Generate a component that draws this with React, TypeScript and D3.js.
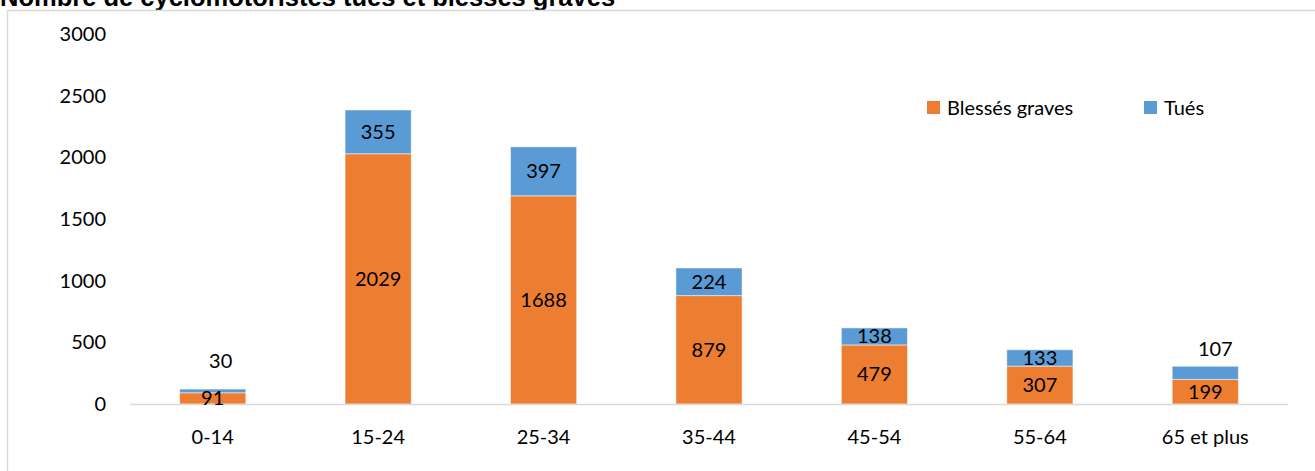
import React from "react";
import * as d3 from "d3";

const categories = ["0-14", "15-24", "25-34", "35-44", "45-54", "55-64", "65 et plus"];
const blesses = [91, 2029, 1688, 879, 479, 307, 199];
const tues = [30, 355, 397, 224, 138, 133, 107];
const yTicks = [0, 500, 1000, 1500, 2000, 2500, 3000];
const seriesNames = ["Blessés graves", "Tués"];
const colors = ["#ED7D31", "#5B9BD5"];
// labels that were moved above the stack in the original chart
const movedLabels: Record<string, [number, number]> = { "0-14": [8, -28], "65 et plus": [10, -17] };

const W = 1315, H = 471;
const FONT = "Lato, 'Open Sans', sans-serif";
const FS = 20;

export default function App() {
  const x = d3.scaleBand<string>().domain(categories).range([130, 1288]).paddingInner(0.6).paddingOuter(0.3);
  const y = d3.scaleLinear().domain([0, 3000]).range([404, 34]);
  const rows = categories.map((c, i) => ({ c, b: blesses[i], t: tues[i] }));
  const stack = d3.stack<any>().keys(["b", "t"])(rows);
  const bw = x.bandwidth();

  return (
    <svg width={W} height={H} style={{ position: "absolute", left: 0, top: 0, background: "#fff" }} fontFamily={FONT}>
      <text x={0} y={6} fontFamily="Arial, 'Liberation Sans', sans-serif" fontWeight="bold" fontSize={25.5} fill="#000">
        Nombre de cyclomotoristes tués et blessés graves
      </text>
      <rect x={7.5} y={10.5} width={W} height={H} fill="none" stroke="#d9d9d9" strokeWidth={1.5} />
      {yTicks.map(t => (
        <text key={t} x={106} y={y(t)} dy="0.35em" textAnchor="end" fontSize={FS} fill="#000">{t}</text>
      ))}
      {stack.map((s, si) => (
        <g key={si}>
          {s.map((d, i) => (
            <rect key={i} x={x(categories[i])!} y={y(d[1])} width={bw} height={y(d[0]) - y(d[1])}
              fill={colors[si]} stroke="#fff" strokeOpacity={0.5} strokeWidth={1} />
          ))}
        </g>
      ))}
      <line x1={130} x2={1288} y1={404.5} y2={404.5} stroke="#d9d9d9" strokeWidth={1.5} />
      {stack.map((s, si) => s.map((d, i) => {
        const c = categories[i];
        let lx = x(c)! + bw / 2;
        let ly = (y(d[0]) + y(d[1])) / 2;
        if (si === 1 && movedLabels[c]) {
          lx += movedLabels[c][0];
          ly = y(d[1]) + movedLabels[c][1];
        }
        return (
          <text key={`${si}-${i}`} x={lx} y={ly} dy="0.35em" textAnchor="middle" fontSize={FS} fill="#000">
            {d[1] - d[0]}
          </text>
        );
      }))}
      {categories.map(c => (
        <text key={c} x={x(c)! + bw / 2} y={437} dy="0.35em" textAnchor="middle" fontSize={FS} fill="#000">{c}</text>
      ))}
      {seriesNames.map((n, i) => {
        const lx = [927, 1144][i];
        return (
          <g key={n}>
            <rect x={lx} y={101} width={13} height={13} fill={colors[i]} />
            <text x={lx + 20} y={107.5} dy="0.35em" fontSize={FS} fill="#000">{n}</text>
          </g>
        );
      })}
    </svg>
  );
}
